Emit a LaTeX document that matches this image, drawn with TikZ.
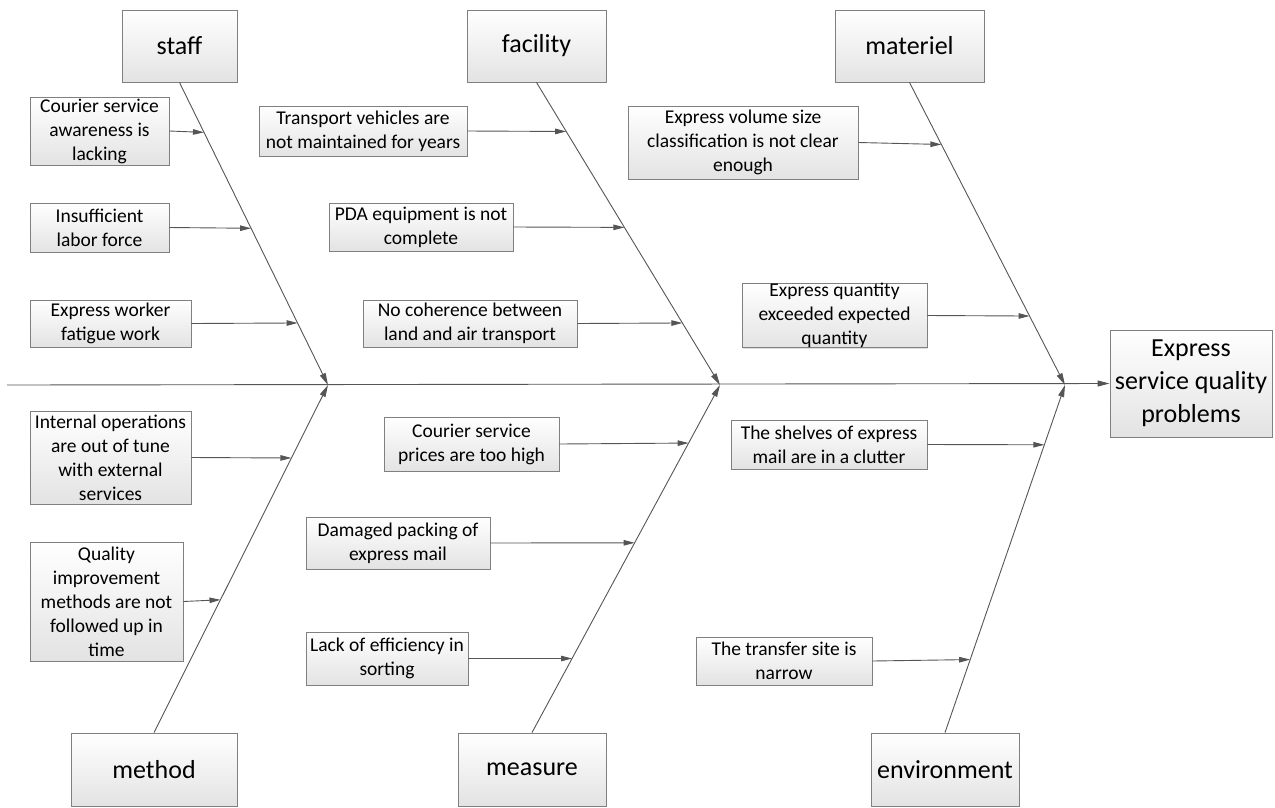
\documentclass[tikz,border=0pt]{standalone}
\usepackage{fontspec}
\setmainfont{Carlito}
\usetikzlibrary{arrows.meta,calc,shadows}

\definecolor{boneline}{HTML}{555555}
\definecolor{boxline}{HTML}{808080}

\tikzset{
  basebox/.style={draw=boxline, line width=0.9pt, top color=white, bottom color=black!11,
    drop shadow={shadow xshift=1.2pt, shadow yshift=-1.2pt, opacity=0.25},
    align=center, inner sep=0pt, text=black},
  cause/.style={basebox, font=\fontsize{19.5}{24}\selectfont},
  head/.style={basebox, font=\fontsize{26}{30}\selectfont},
  effect/.style={basebox, font=\fontsize{26}{33}\selectfont},
  bone/.style={draw=boneline, line width=0.9pt, -{Triangle[length=12pt,width=6pt]}},
  twig/.style={draw=boneline, line width=0.9pt, -{Triangle[length=11pt,width=5.5pt]}},
}

\begin{document}
\begin{tikzpicture}[x=1pt, y=-1pt]
\useasboundingbox (0,0) rectangle (1275,807);

% category heads
\node[head, minimum width=115pt, minimum height=72pt] (staff) at (179.5,46) {staff};
\node[head, minimum width=139pt, minimum height=72pt] (facility) at (536.5,46) {facility};
\node[head, minimum width=149pt, minimum height=72pt] (materiel) at (909.5,46) {materiel};
\node[head, minimum width=166pt, minimum height=73pt] (method) at (154,769.5) {method};
\node[head, minimum width=148pt, minimum height=73pt] (measure) at (532,769.5) {measure};
\node[head, minimum width=148pt, minimum height=73pt] (environment) at (945,769.5) {environment};

% effect
\node[effect, minimum width=162pt, minimum height=107pt] (effect) at (1191,383.5)
  {Express\\service quality\\problems};

% spine and junctions
\coordinate (tail) at (7,385);
\coordinate (j1) at (328,385);
\coordinate (j2) at (720,385);
\coordinate (j3) at (1065,385);
\draw[bone] (tail) -- (effect.west);

% main bones
\draw[bone] (staff.south) -- (j1);
\draw[bone] (facility.south) -- (j2);
\draw[bone] (materiel.south) -- (j3);
\draw[bone] (method.north) -- (j1);
\draw[bone] (measure.north) -- (j2);
\draw[bone] (environment.north) -- (j3);

% staff causes
\node[cause, minimum width=139pt, minimum height=68pt] (s1) at (99.5,131)
  {Courier service\\awareness is\\lacking};
\node[cause, minimum width=139pt, minimum height=49pt] (s2) at (99.5,227.5)
  {Insufficient\\labor force};
\node[cause, minimum width=161pt, minimum height=47pt] (s3) at (110.5,323.5)
  {Express worker\\fatigue work};
\draw[twig] (s1.east) -- ($(staff.south)!0.165!(j1)$);
\draw[twig] (s2.east) -- ($(staff.south)!0.482!(j1)$);
\draw[twig] (s3.east) -- ($(staff.south)!0.795!(j1)$);

% facility causes
\node[cause, minimum width=208pt, minimum height=50pt] (f1) at (363,131)
  {Transport vehicles are\\not maintained for years};
\node[cause, minimum width=184pt, minimum height=48pt] (f2) at (421,227)
  {PDA equipment is not\\complete};
\node[cause, minimum width=214pt, minimum height=47pt] (f3) at (470,323.5)
  {No coherence between\\land and air transport};
\draw[twig] (f1.east) -- ($(facility.south)!0.162!(j2)$);
\draw[twig] (f2.east) -- ($(facility.south)!0.479!(j2)$);
\draw[twig] (f3.east) -- ($(facility.south)!0.795!(j2)$);

% materiel causes
\node[cause, minimum width=230pt, minimum height=73pt] (m1) at (743,142.5)
  {Express volume size\\classification is not clear\\enough};
\node[cause, minimum width=185pt, minimum height=63pt] (m2) at (834.5,315.5)
  {Express quantity\\exceeded expected\\quantity};
\draw[twig] (m1.east) -- ($(materiel.south)!0.205!(j3)$);
\draw[twig] (m2.east) -- ($(materiel.south)!0.772!(j3)$);

% method causes
\node[cause, minimum width=161pt, minimum height=93pt] (t1) at (110.5,457.5)
  {Internal operations\\are out of tune\\with external\\services};
\node[cause, minimum width=153pt, minimum height=119pt] (t2) at (106.5,601.5)
  {Quality\\improvement\\methods are not\\followed up in\\time};
\draw[twig] (t1.east) -- ($(method.north)!0.790!(j1)$);
\draw[twig] (t2.east) -- ($(method.north)!0.382!(j1)$);

% measure causes
\node[cause, minimum width=175pt, minimum height=54pt] (e1) at (471.5,444)
  {Courier service\\prices are too high};
\node[cause, minimum width=184pt, minimum height=52pt] (e2) at (398,543)
  {Damaged packing of\\express mail};
\node[cause, minimum width=162pt, minimum height=53pt] (e3) at (387,658.5)
  {Lack of efficiency in\\sorting};
\draw[twig] (e1.east) -- ($(measure.north)!0.833!(j2)$);
\draw[twig] (e2.east) -- ($(measure.north)!0.546!(j2)$);
\draw[twig] (e3.east) -- ($(measure.north)!0.213!(j2)$);

% environment causes
\node[cause, minimum width=196pt, minimum height=49pt] (v1) at (829,444.5)
  {The shelves of express\\mail are in a clutter};
\node[cause, minimum width=176pt, minimum height=48pt] (v2) at (784,661)
  {The transfer site is\\narrow};
\draw[twig] (v1.east) -- ($(environment.north)!0.828!(j3)$);
\draw[twig] (v2.east) -- ($(environment.north)!0.210!(j3)$);
\end{tikzpicture}
\end{document}
